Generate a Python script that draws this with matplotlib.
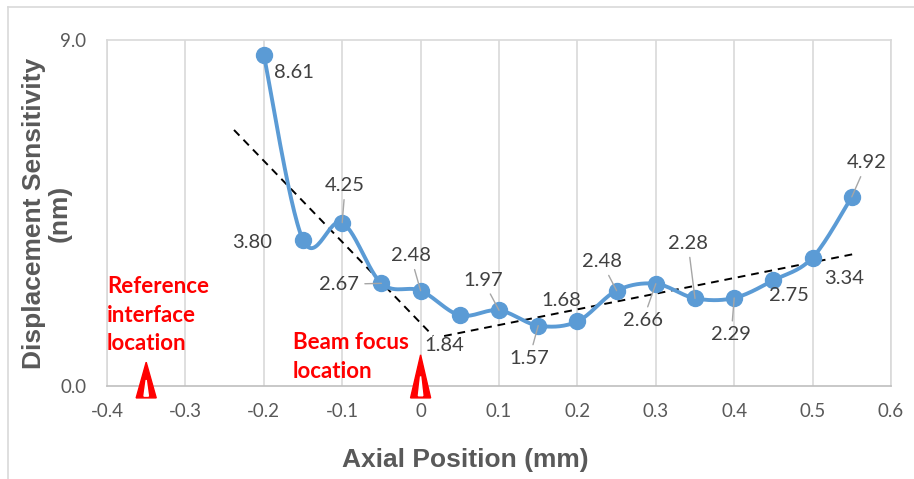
import numpy as np
import matplotlib.pyplot as plt
from matplotlib.patches import Polygon
from matplotlib.lines import Line2D

# datos
pos = [-0.2, -0.15, -0.1, -0.05, 0.0, 0.05, 0.1, 0.15, 0.2, 0.25, 0.3, 0.35, 0.4, 0.45, 0.5, 0.55]
sens = [8.61, 3.80, 4.25, 2.67, 2.48, 1.84, 1.97, 1.57, 1.68, 2.48, 2.66, 2.28, 2.29, 2.75, 3.34, 4.92]
# desplazamiento de cada etiqueta (pixeles) y si lleva linea guia
lab_off = [(30, -18), (-51, -3), (3, 37), (-42, -1), (-10, 35), (-16, -30), (-16, 30), (-9, -33),
           (-16, 21), (-15, 29), (-13, -37), (-7, 55), (-3, -37), (16, -15), (32, -21), (15, 34)]
leader = [0, 0, 1, 1, 1, 0, 1, 1, 0, 1, 1, 1, 1, 0, 0, 1]
# lineas de tendencia
trend1 = ([-0.238, 0.016], [6.66, 1.30])
trend2 = ([0.03, 0.552], [1.30, 3.43])
# marcas triangulares
tri_x = [-0.35, 0.0]
tri_top = [0.62, 0.81]

BLUE = '#5B9BD5'
GRAY = '#595959'
LAB = '#404040'


# suavizado tipo Excel (Catmull-Rom)
def suaviza(x, y, n=30):
    x = np.asarray(x); y = np.asarray(y)
    px = np.concatenate([[x[0]], x, [x[-1]]])
    py = np.concatenate([[y[0]], y, [y[-1]]])
    xs, ys = [], []
    t = np.linspace(0, 1, n)
    for i in range(1, len(px) - 2):
        p0, p1, p2, p3 = [np.array([px[j], py[j]]) for j in (i - 1, i, i + 1, i + 2)]
        c1 = p1 + (p2 - p0) / 6
        c2 = p2 - (p3 - p1) / 6
        b = ((1 - t)**3)[:, None]*p1 + (3*(1 - t)**2*t)[:, None]*c1 + (3*(1 - t)*t**2)[:, None]*c2 + (t**3)[:, None]*p2
        xs.extend(b[:, 0]); ys.extend(b[:, 1])
    return xs, ys


fig = plt.figure(figsize=(9.14, 4.79), dpi=100)
ax = fig.add_axes([107/914, 1 - 386/479, 784/914, 346/479])

sx, sy = suaviza(pos, sens)
ax.plot(sx, sy, color=BLUE, lw=2.8, zorder=3, solid_capstyle='round')
ax.plot(pos, sens, 'o', color=BLUE, ms=11.5, zorder=4)

ax.plot(*trend1, ls=(0, (4, 3)), color='black', lw=1.4, zorder=2)
ax.plot(*trend2, ls=(0, (4, 3)), color='black', lw=1.4, zorder=2)

for x, v, (dx, dy), ld in zip(pos, sens, lab_off, leader):
    props = dict(arrowstyle='-', color='#a6a6a6', lw=1.0, shrinkA=2, shrinkB=0) if ld else None
    ax.annotate('%.2f' % v, (x, v), xytext=(dx, dy), textcoords='offset pixels',
                ha='center', va='center', fontsize=14.5, color=LAB, family='Lato',
                arrowprops=props, zorder=5)

# triangulos rojos
for x, top in zip(tri_x, tri_top):
    w = 0.0128
    base = -0.31
    h = top - base
    ax.add_patch(Polygon([[x - w, base], [x + w, base], [x, top]], closed=True,
                         color='#FF0000', clip_on=False, zorder=6))
    ax.add_patch(Polygon([[x - w*0.22, base + 0.05*h], [x + w*0.22, base + 0.05*h], [x, base + 0.5*h]],
                         closed=True, color='white', clip_on=False, zorder=7))

ax.text(-0.4, 2.86, 'Reference\ninterface\nlocation', color='#FF0000', fontweight='bold',
        fontsize=16, family='Lato', va='top', ha='left', linespacing=1.45)
ax.text(-0.163, 1.40, 'Beam focus\nlocation', color='#FF0000', fontweight='bold',
        fontsize=16, family='Lato', va='top', ha='left', linespacing=1.45)

ax.set_xlim(-0.4, 0.6)
ax.set_ylim(0, 9)
ax.set_xticks(np.arange(-0.4, 0.61, 0.1))
ax.set_xticklabels(['-0.4', '-0.3', '-0.2', '-0.1', '0', '0.1', '0.2', '0.3', '0.4', '0.5', '0.6'])
ax.set_yticks([0, 9])
ax.set_yticklabels(['0.0', '9.0'])
ax.tick_params(length=0, labelsize=13.5, labelcolor=GRAY)
ax.tick_params(axis='x', pad=12)
ax.tick_params(axis='y', pad=15)
for lbl in ax.get_xticklabels() + ax.get_yticklabels():
    lbl.set_family('Lato')
ax.grid(axis='x', color='#d9d9d9', lw=1.2)
ax.set_axisbelow(True)
for s in ax.spines.values():
    s.set_color('#d9d9d9')
    s.set_linewidth(1.2)
ax.spines['bottom'].set_color('#bfbfbf')

fig.text(465/914, 1 - 460/479, 'Axial Position (mm)', ha='center', va='center',
         fontsize=19, fontweight='bold', color=GRAY, family='Liberation Sans')
fig.text(47/914, 1 - 213/479, 'Displacement Sensitivity\n(nm)', ha='center', va='center',
         rotation=90, multialignment='center', fontsize=19, fontweight='bold', color=GRAY,
         family='Liberation Sans', linespacing=1.1)

# marco del grafico
fig.add_artist(Line2D([8/914, 8/914], [0, 1 - 7/479], color='#d9d9d9', lw=1.2))
fig.add_artist(Line2D([8/914, 1], [1 - 7/479, 1 - 7/479], color='#d9d9d9', lw=1.2))

plt.savefig('out.png', dpi=100)
